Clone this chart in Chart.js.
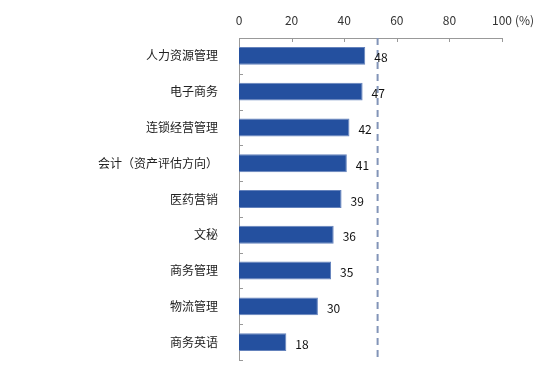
<!DOCTYPE html>
<html>
<head>
<meta charset="utf-8">
<script src="https://cdn.jsdelivr.net/npm/chart.js@4"></script>
<style>
  body { margin: 0; background: #fff; }
  #chartCanvas { display: block; }
</style>
</head>
<body>
<canvas id="chartCanvas" width="547" height="371"></canvas>
<script>
// data
const categories = ['人力资源管理', '电子商务', '连锁经营管理', '会计（资产评估方向）', '医药营销', '文秘', '商务管理', '物流管理', '商务英语'];
const percentValues = [48, 47, 42, 41, 39, 36, 35, 30, 18];
const referenceLine = 52.7;
const xTicks = [0, 20, 40, 60, 80, 100];

const FONT = '"Noto Sans CJK SC", "DejaVu Sans", sans-serif';
const ctx = document.getElementById('chartCanvas').getContext('2d');

// inward tick marks, dashed line, value labels and the (%) unit
const extras = {
    id: 'extras',
    afterDatasetsDraw(chart) {
        const c = chart.ctx;
        const area = chart.chartArea;
        const xs = chart.scales.x;
        c.save();
        c.strokeStyle = '#999';
        c.lineWidth = 1;
        xTicks.forEach(v => {
            const x = Math.round(xs.getPixelForValue(v)) + 0.5;
            c.beginPath();
            c.moveTo(x, area.top);
            c.lineTo(x, area.top + 4);
            c.stroke();
        });
        const band = (area.bottom - area.top) / categories.length;
        for (let i = 0; i <= categories.length; i++) {
            const y = Math.round(area.top + i * band) + 0.5;
            c.beginPath();
            c.moveTo(area.left, y);
            c.lineTo(area.left + 4, y);
            c.stroke();
        }

        // dashed reference line
        const rx = xs.getPixelForValue(referenceLine);
        c.strokeStyle = '#8294B8';
        c.lineWidth = 2;
        c.setLineDash([7, 5]);
        c.beginPath();
        c.moveTo(rx, area.top);
        c.lineTo(rx, area.bottom);
        c.stroke();
        c.setLineDash([]);

        // value labels
        c.fillStyle = '#111';
        c.font = '12px ' + FONT;
        c.textAlign = 'left';
        c.textBaseline = 'middle';
        chart.getDatasetMeta(0).data.forEach((bar, i) => {
            c.fillText(String(percentValues[i]), bar.x + 9, bar.y + 2);
        });

        // unit
        c.fillStyle = '#333';
        c.fillText('(%)', xs.getPixelForValue(100) + 13, 20);
        c.restore();
    }
};

new Chart(ctx, {
    type: 'bar',
    data: {
        labels: categories,
        datasets: [{
            data: percentValues,
            backgroundColor: '#24509F',
            borderColor: '#6482BC',
            borderWidth: 1,
            borderSkipped: 'left',
            categoryPercentage: 0.5,
            barPercentage: 1
        }]
    },
    options: {
        indexAxis: 'y',
        responsive: false,
        animation: false,
        layout: { padding: { top: 0, right: 45, bottom: 11, left: 0 } },
        scales: {
            x: {
                position: 'top',
                min: 0,
                max: 100,
                afterBuildTicks: axis => { axis.ticks = xTicks.map(v => ({ value: v })); },
                afterFit: axis => { axis.height = 38; axis.paddingLeft = 0; axis.paddingRight = 0; },
                grid: { display: false },
                border: { display: true, color: '#999', width: 1 },
                ticks: { color: '#333', font: { family: FONT, size: 12 }, padding: 2, maxRotation: 0 }
            },
            y: {
                afterFit: axis => { axis.width = 239; axis.paddingTop = 0; axis.paddingBottom = 0; },
                grid: { display: false },
                border: { display: true, color: '#999', width: 1 },
                ticks: { color: '#222', font: { family: FONT, size: 12 }, padding: 13 }
            }
        },
        plugins: {
            legend: { display: false },
            tooltip: { enabled: false }
        }
    },
    plugins: [extras]
});
</script>
</body>
</html>
